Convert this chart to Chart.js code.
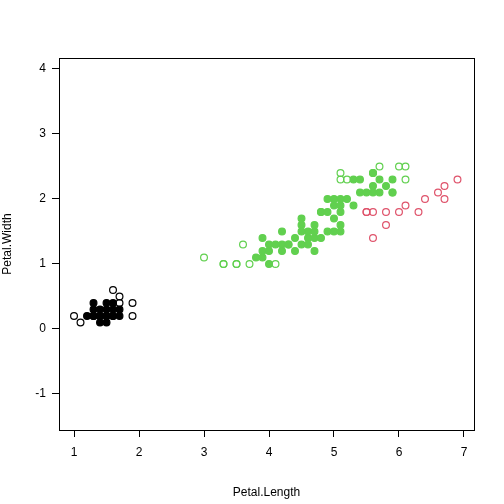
<!DOCTYPE html>
<html><head><script src="https://cdn.jsdelivr.net/npm/chart.js@4"></script>
<style>html,body{margin:0;padding:0;background:#fff}#c{width:504px;height:504px}</style></head>
<body><div id="c"><canvas id="cv" width="504" height="504"></canvas></div>
<script>
const xTicks=[1,2,3,4,5,6,7];
const yTicks=[-1,0,1,2,3,4];
const blackFilled=[[1.3,0.4],[1.5,0.4],[1.6,0.4],[1.3,0.3],[1.4,0.3],[1.5,0.3],[1.6,0.3],[1.7,0.3],[1.2,0.2],[1.3,0.2],[1.4,0.2],[1.5,0.2],[1.6,0.2],[1.7,0.2],[1.4,0.1],[1.5,0.1],[1.4,0.2],[1.5,0.2],[1.3,0.2],[1.6,0.2]];
const blackOpen=[[1.0,0.2],[1.1,0.1],[1.6,0.6],[1.7,0.5],[1.7,0.4],[1.9,0.4],[1.9,0.2]];
const greenFilled=[[4.0,1.0],[3.8,1.1],[3.9,1.1],[3.9,1.2],[4.0,1.2],[3.9,1.4],[4.0,1.3],[4.1,1.3],[4.2,1.3],[4.3,1.3],[4.2,1.2],[4.3,1.3],[4.4,1.2],[4.2,1.5],[4.4,1.4],[4.5,1.3],[4.5,1.7],[4.5,1.6],[4.5,1.5],[4.6,1.5],[4.7,1.6],[4.7,1.5],[4.6,1.4],[4.7,1.4],[4.8,1.4],[4.6,1.3],[4.7,1.2],[4.9,1.5],[5.0,1.5],[5.1,1.5],[5.1,1.6],[5.0,1.7],[4.8,1.8],[4.8,1.8],[4.9,1.8],[4.9,2.0],[5.0,1.9],[5.0,2.0],[5.1,1.9],[5.1,2.0],[5.2,2.0],[5.1,1.8],[5.3,1.9],[5.3,2.3],[5.4,2.3],[5.4,2.1],[5.5,2.1],[5.6,2.1],[5.7,2.1],[5.6,2.2],[5.6,2.4],[5.6,2.4],[5.7,2.3],[5.8,2.2],[5.9,2.3],[5.9,2.1]];
const greenOpen=[[3.0,1.1],[3.3,1.0],[3.3,1.0],[3.5,1.0],[3.5,1.0],[3.6,1.3],[3.7,1.0],[4.1,1.0],[5.1,2.4],[5.1,2.3],[5.2,2.3],[5.7,2.5],[6.0,2.5],[6.1,2.5],[6.1,2.3],[5.9,2.1]];
const pinkOpen=[[6.9,2.3],[6.7,2.2],[6.6,2.1],[6.7,2.0],[6.4,2.0],[6.1,1.9],[6.0,1.8],[6.3,1.8],[5.8,1.8],[5.6,1.8],[5.5,1.8],[5.5,1.8],[5.8,1.6],[5.6,1.4]];
const toPts=a=>a.map(p=>({x:p[0],y:p[1]}));
const GREEN='#61D04F',PINK='#DF536B';
function ds(a,col,filled){return {data:toPts(a),pointRadius:3.4,pointHoverRadius:3.4,borderWidth:1.2,pointBorderColor:col,pointBackgroundColor:filled?col:'rgba(0,0,0,0)'};}
const box={id:'box',afterDraw(c){const a=c.chartArea,x=c.ctx;x.save();x.strokeStyle='#000';x.lineWidth=1;x.strokeRect(a.left+0.5,a.top+0.5,a.right-a.left,a.bottom-a.top);x.restore();}};
const font={family:'Liberation Sans, Arial',size:12};
new Chart(document.getElementById('cv'),{type:'scatter',
data:{datasets:[ds(blackFilled,'#000',true),ds(blackOpen,'#000',false),ds(greenFilled,GREEN,true),ds(greenOpen,GREEN,false),ds(pinkOpen,PINK,false)]},
options:{responsive:false,animation:false,events:[],layout:{padding:{left:0,top:58,right:30,bottom:0}},
plugins:{legend:{display:false},tooltip:{enabled:false}},
scales:{
x:{type:'linear',min:0.769,max:7.154,afterBuildTicks(s){s.ticks=xTicks.map(v=>({value:v}));},afterFit(s){s.height=74;},
 grid:{drawOnChartArea:false,tickLength:7,color:'#000'},border:{display:false},
 ticks:{color:'#000',font,padding:8,maxRotation:0},title:{display:true,text:'Petal.Length',color:'#000',font,padding:{top:8}}},
y:{type:'linear',min:-1.554,max:4.169,afterBuildTicks(s){s.ticks=yTicks.map(v=>({value:v}));},afterFit(s){s.width=59;},
 grid:{drawOnChartArea:false,tickLength:7,color:'#000'},border:{display:false},
 ticks:{color:'#000',font,padding:6},title:{display:true,text:'Petal.Width',color:'#000',font,padding:{top:0,bottom:4}}}}},
plugins:[box]});
</script></body></html>
